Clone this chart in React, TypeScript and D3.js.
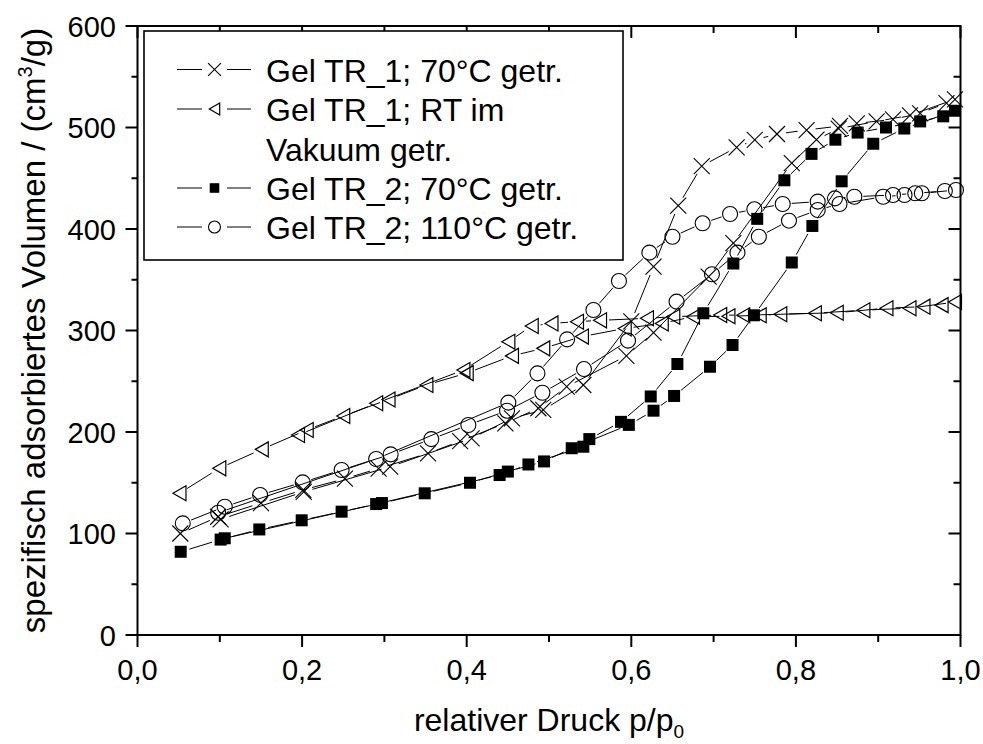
import React from 'react';
import * as d3 from 'd3';

type P = [number, number];

// Gel TR_1; 70°C getr. (crosses)
const tr1_70_ads: P[] = [[0.052,100],[0.098,116.5],[0.150,130],[0.2015,143],[0.252,154],[0.293,164],[0.353,179],[0.392,191],[0.447,208.6],[0.487,223.4],[0.5215,244.6],[0.594,275],[0.627,298],[0.694,353],[0.724,386],[0.795,465],[0.825,488],[0.852,499],[0.898,506],[0.9386,512],[0.9933,527.8]];
const tr1_70_des: P[] = [[0.983,524],[0.951,514],[0.918,508],[0.874,504],[0.8536,501.5],[0.813,497.5],[0.777,493.6],[0.75,487.7],[0.728,480.5],[0.6856,462],[0.657,423],[0.627,363],[0.6,309],[0.5417,246.3],[0.493,221.7],[0.455,213.5],[0.406,193.8],[0.307,165.8],[0.202,141],[0.101,114]];

// Gel TR_1; RT im Vakuum getr. (left triangles)
const tr1_rt_ads: P[] = [[0.051,139.6],[0.0994,164.2],[0.151,182.9],[0.2056,202],[0.25,215.8],[0.305,232],[0.351,246.3],[0.4,258],[0.455,275],[0.493,282.4],[0.54,294],[0.592,302],[0.637,307],[0.675,313.6],[0.718,314],[0.756,315],[0.781,316],[0.823,317],[0.882,320],[0.938,322],[0.9933,328]];
const tr1_rt_des: P[] = [[0.977,325],[0.955,323.5],[0.91,322],[0.8496,317.5],[0.736,315],[0.708,315.3],[0.651,313.6],[0.619,312],[0.562,310],[0.534,308.7],[0.503,307],[0.479,304.4],[0.4506,289],[0.396,261],[0.29,228.3],[0.195,197]];

// Gel TR_2; 70°C getr. (filled squares)
const tr2_70_ads: P[] = [[0.0525,82],[0.101,94],[0.148,104],[0.1995,113],[0.248,121.5],[0.297,130],[0.349,139.6],[0.404,150],[0.45,161],[0.494,171],[0.5276,184],[0.597,207],[0.627,221],[0.652,235.5],[0.6956,264.3],[0.723,285.7],[0.749,315],[0.795,367],[0.82,403],[0.8556,447],[0.894,484],[0.9317,499],[0.9933,516.5]];
const tr2_70_des: P[] = [[0.979,511],[0.951,506],[0.9095,500],[0.875,495],[0.848,488],[0.819,474],[0.786,448],[0.753,410],[0.724,366],[0.6875,317],[0.656,267],[0.6236,235],[0.5875,210],[0.549,193],[0.5417,185.5],[0.475,168],[0.44,157.6],[0.29,129],[0.106,95.3]];

// Gel TR_2; 110°C getr. (open circles)
const tr2_110_ads: P[] = [[0.055,110],[0.106,126.4],[0.149,138],[0.2007,150.4],[0.248,162.6],[0.3076,178],[0.357,193],[0.402,206.9],[0.449,221],[0.492,238.7],[0.5425,262],[0.596,290],[0.655,328.4],[0.698,355.4],[0.729,376.7],[0.755,392.4],[0.7916,408.2],[0.8265,418.7],[0.853,424.6],[0.906,431.8],[0.932,433.5],[0.953,435.2],[0.9945,438.4]];
const tr2_110_des: P[] = [[0.981,437.4],[0.945,435.2],[0.918,433.5],[0.871,431.8],[0.8475,430.2],[0.8265,427],[0.784,424.6],[0.7495,419.4],[0.72,414.8],[0.6867,405.6],[0.65,392.4],[0.622,376.7],[0.585,348.8],[0.554,320.2],[0.522,291.3],[0.486,257.8],[0.4506,228.9],[0.29,173.4],[0.098,120.5]];

const seriesNames = ['Gel TR_1; 70°C getr.', 'Gel TR_1; RT im', 'Gel TR_2; 70°C getr.', 'Gel TR_2; 110°C getr.'];
const legendExtra = 'Vakuum getr.';

const xMajor = [0, 0.2, 0.4, 0.6, 0.8, 1.0];
const xMajorLabels = ['0,0', '0,2', '0,4', '0,6', '0,8', '1,0'];
const xMinor = [0.1, 0.3, 0.5, 0.7, 0.9];
const yMajor = [0, 100, 200, 300, 400, 500, 600];
const yMajorLabels = ['0', '100', '200', '300', '400', '500', '600'];
const yMinor = [50, 150, 250, 350, 450, 550];

const FONT = "'Liberation Sans', Arial, Helvetica, sans-serif";

type Kind = 'cross' | 'tri' | 'square' | 'circle';

function Marker({ kind, cx, cy, s = 1 }: { kind: Kind; cx: number; cy: number; s?: number }) {
  if (kind === 'cross') {
    const h = 8 * s;
    return (
      <g stroke="#000" strokeWidth={1.1}>
        <line x1={cx - h} y1={cy - h} x2={cx + h} y2={cy + h} />
        <line x1={cx - h} y1={cy + h} x2={cx + h} y2={cy - h} />
      </g>
    );
  }
  if (kind === 'tri') {
    const w = 6.5 * s, h = 7.5 * s;
    return <polygon points={`${cx - w},${cy} ${cx + w},${cy - h} ${cx + w},${cy + h}`} fill="none" stroke="#000" strokeWidth={1.2} />;
  }
  if (kind === 'square') {
    const h = 6 * s;
    return <rect x={cx - h} y={cy - h} width={2 * h} height={2 * h} fill="#000" />;
  }
  return <circle cx={cx} cy={cy} r={7.5 * s} fill="none" stroke="#000" strokeWidth={1.1} />;
}

function gapped(pts: [number, number][], gap: number) {
  const segs: number[][] = [];
  for (let i = 0; i < pts.length - 1; i++) {
    const [x1, y1] = pts[i];
    const [x2, y2] = pts[i + 1];
    const d = Math.hypot(x2 - x1, y2 - y1);
    if (d <= 2 * gap + 1) continue;
    const ux = (x2 - x1) / d, uy = (y2 - y1) / d;
    segs.push([x1 + ux * gap, y1 + uy * gap, x2 - ux * gap, y2 - uy * gap]);
  }
  return segs;
}

export default function App() {
  const x = d3.scaleLinear().domain([0, 1]).range([137.5, 960.5]);
  const y = d3.scaleLinear().domain([0, 600]).range([635, 26]);

  const series: { data: P[]; kind: Kind }[] = [
    { data: [...tr1_70_ads, ...tr1_70_des], kind: 'cross' },
    { data: [...tr1_rt_ads, ...tr1_rt_des], kind: 'tri' },
    { data: [...tr2_70_ads, ...tr2_70_des], kind: 'square' },
    { data: [...tr2_110_ads, ...tr2_110_des], kind: 'circle' },
  ];

  const x0 = x(0), x1 = x(1), y0 = y(0), y1 = y(600);

  const legendRows = [
    { kind: 'cross' as Kind, label: seriesNames[0], yb: 81.5 },
    { kind: 'tri' as Kind, label: seriesNames[1], yb: 121 },
    { kind: null, label: legendExtra, yb: 160.5 },
    { kind: 'square' as Kind, label: seriesNames[2], yb: 200 },
    { kind: 'circle' as Kind, label: seriesNames[3], yb: 239 },
  ];

  return (
    <svg width={983} height={744} style={{ position: 'absolute', left: 0, top: 0, background: '#fff' }} fontFamily={FONT}>
      {/* data */}
      {series.map((s, si) => {
        const pts = s.data.map(d => [x(d[0]), y(d[1])] as [number, number]);
        const segs = gapped(pts, 9);
        return (
          <g key={si}>
            {segs.map((g, i) => (
              <line key={i} x1={g[0]} y1={g[1]} x2={g[2]} y2={g[3]} stroke="#000" strokeWidth={1} />
            ))}
            {pts.map((p, i) => (
              <Marker key={i} kind={s.kind} cx={p[0]} cy={p[1]} />
            ))}
          </g>
        );
      })}

      {/* axes frame */}
      <g stroke="#000" strokeWidth={2} fill="none">
        <rect x={x0} y={y1} width={x1 - x0} height={y0 - y1} />
      </g>
      {/* ticks */}
      <g stroke="#000" strokeWidth={2}>
        {xMajor.map((v, i) => (
          <g key={'xm' + i}>
            <line x1={x(v)} x2={x(v)} y1={y0} y2={y0 + 12} />
            <line x1={x(v)} x2={x(v)} y1={y1} y2={y1 + 12} />
          </g>
        ))}
        {xMinor.map((v, i) => (
          <g key={'xn' + i}>
            <line x1={x(v)} x2={x(v)} y1={y0} y2={y0 + 7} />
            <line x1={x(v)} x2={x(v)} y1={y1} y2={y1 + 7} />
          </g>
        ))}
        {yMajor.map((v, i) => (
          <g key={'ym' + i}>
            <line x1={x0 - 12} x2={x0} y1={y(v)} y2={y(v)} />
            <line x1={x1 - 12} x2={x1} y1={y(v)} y2={y(v)} />
          </g>
        ))}
        {yMinor.map((v, i) => (
          <g key={'yn' + i}>
            <line x1={x0 - 6} x2={x0} y1={y(v)} y2={y(v)} />
            <line x1={x1 - 7} x2={x1} y1={y(v)} y2={y(v)} />
          </g>
        ))}
      </g>
      {/* tick labels */}
      <g fontSize={29} fill="#000">
        {xMajor.map((v, i) => (
          <text key={'xl' + i} x={x(v)} y={680} textAnchor="middle">{xMajorLabels[i]}</text>
        ))}
        {yMajor.map((v, i) => (
          <text key={'yl' + i} x={116} y={y(v) + 10.5} textAnchor="end">{yMajorLabels[i]}</text>
        ))}
      </g>
      {/* axis titles */}
      <text x={(x0 + x1) / 2} y={731} textAnchor="middle" fontSize={32} fill="#000">
        relativer Druck p/p<tspan fontSize={19} dy={7}>0</tspan>
      </text>
      <text transform={`translate(45,${(y0 + y1) / 2}) rotate(-90)`} textAnchor="middle" fontSize={33} fill="#000">
        spezifisch adsorbiertes Volumen / (cm<tspan fontSize={20} dy={-13}>3</tspan><tspan dy={13}>/g)</tspan>
      </text>

      {/* legend */}
      <rect x={144} y={31} width={479} height={229} fill="#fff" stroke="#000" strokeWidth={1.6} />
      {legendRows.map((r, i) => (
        <g key={'lg' + i}>
          {r.kind && (
            <g>
              <line x1={177} x2={202} y1={r.yb - 12} y2={r.yb - 12} stroke="#000" strokeWidth={1} />
              <line x1={227} x2={251} y1={r.yb - 12} y2={r.yb - 12} stroke="#000" strokeWidth={1} />
              <Marker kind={r.kind} cx={214.5} cy={r.yb - 12} s={0.8} />
            </g>
          )}
          <text x={266} y={r.yb} fontSize={32} fill="#000">{r.label}</text>
        </g>
      ))}
    </svg>
  );
}
